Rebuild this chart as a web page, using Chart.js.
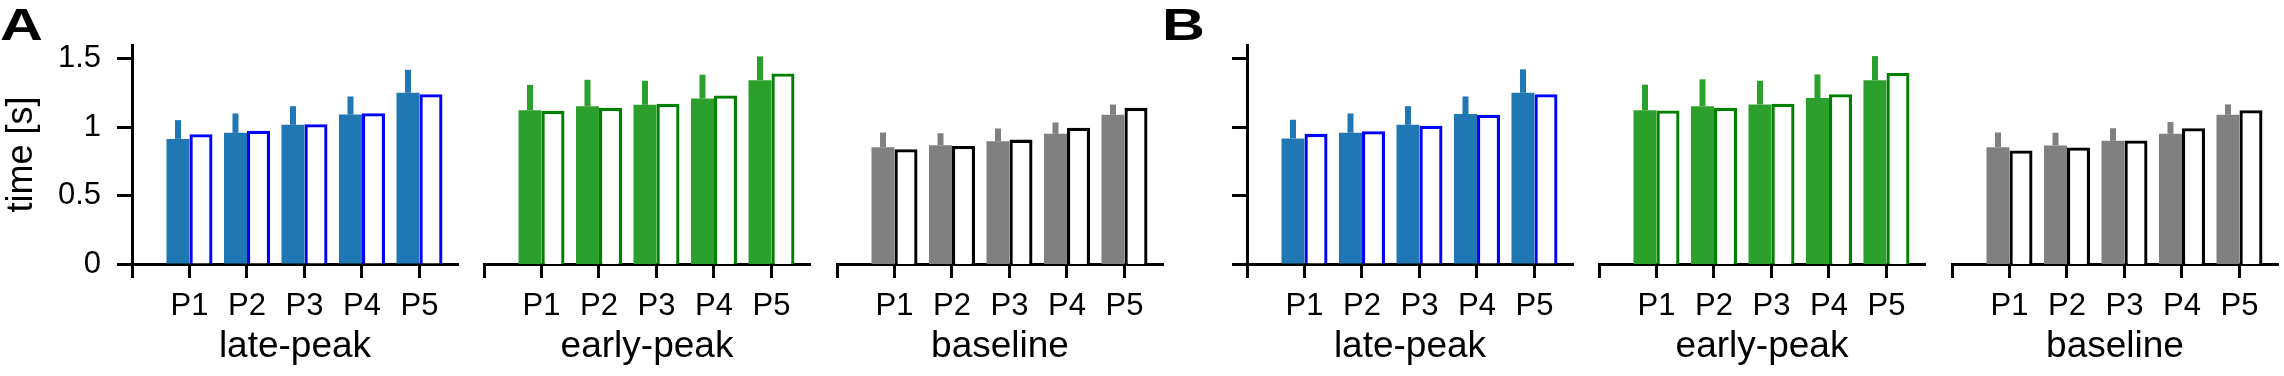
<!DOCTYPE html>
<html>
<head>
<meta charset="utf-8">
<script src="https://cdn.jsdelivr.net/npm/chart.js@4.4.1/dist/chart.umd.min.js"></script>
<style>
  body { margin: 0; background: #fff; }
  #fig { position: relative; width: 2284px; height: 376px; overflow: hidden; background: #fff; }
  #fig canvas { position: absolute; top: 0; }
  .tag { position: absolute; top: 3px; font: bold 44px 'Liberation Sans', Arial, sans-serif;
         line-height: 44px; transform: scaleX(1.35); transform-origin: 0 0; color: #000; }
</style>
</head>
<body>
<div id="fig">
  <div class="tag" style="left:0px">A</div>
  <div class="tag" style="left:1162px">B</div>
  <canvas id="aLate"  width="478" height="376" style="left:0px"></canvas>
  <canvas id="aEarly" width="366" height="376" style="left:464px"></canvas>
  <canvas id="aBase"  width="366" height="376" style="left:817px"></canvas>
  <canvas id="bLate"  width="478" height="376" style="left:1115px"></canvas>
  <canvas id="bEarly" width="366" height="376" style="left:1579px"></canvas>
  <canvas id="bBase"  width="366" height="376" style="left:1932px"></canvas>
</div>
<script>
// ===============================
// Data
// ===============================
const categories = ["P1", "P2", "P3", "P4", "P5"];
const yTicks = [0, 0.5, 1, 1.5];
const yTickLabels = ["0", "0.5", "1", "1.5"];
const yLabel = "time [s]";

// panel A
const aLateFilled  = [0.914, 0.958, 1.017, 1.092, 1.251];
const aLateErr     = [0.137, 0.142, 0.136, 0.132, 0.168];
const aLateOpen    = [0.948, 0.973, 1.021, 1.102, 1.241];

const aEarlyFilled = [1.124, 1.153, 1.163, 1.209, 1.343];
const aEarlyErr    = [0.185, 0.193, 0.176, 0.174, 0.174];
const aEarlyOpen   = [1.119, 1.141, 1.170, 1.231, 1.392];

const aBaseFilled  = [0.853, 0.868, 0.897, 0.951, 1.090];
const aBaseErr     = [0.108, 0.087, 0.093, 0.083, 0.075];
const aBaseOpen    = [0.838, 0.863, 0.909, 0.995, 1.141];

// panel B
const bLateFilled  = [0.917, 0.959, 1.017, 1.095, 1.251];
const bLateErr     = [0.137, 0.141, 0.136, 0.129, 0.171];
const bLateOpen    = [0.951, 0.970, 1.010, 1.090, 1.241];

const bEarlyFilled = [1.124, 1.153, 1.166, 1.212, 1.343];
const bEarlyErr    = [0.186, 0.196, 0.173, 0.173, 0.176];
const bEarlyOpen   = [1.122, 1.141, 1.171, 1.241, 1.395];

const bBaseFilled  = [0.853, 0.866, 0.900, 0.951, 1.090];
const bBaseErr     = [0.108, 0.093, 0.092, 0.086, 0.076];
const bBaseOpen    = [0.829, 0.851, 0.902, 0.992, 1.124];

// ===============================
// Styles
// ===============================
const FONT = "'Liberation Sans', Arial, sans-serif";
Chart.defaults.font.family = FONT;
Chart.defaults.color = "#000";

const palette = {
    "late-peak":  { fill: "#1f77b4", edge: "#0000ff" },
    "early-peak": { fill: "#2ca02c", edge: "#008000" },
    "baseline":   { fill: "#808080", edge: "#000000" }
};

// ===============================
// Upper error bars on the filled bars
// ===============================
const errorBars = {
    id: "errorBars",
    afterDatasetsDraw(chart) {
        const ds = chart.data.datasets[0];
        const meta = chart.getDatasetMeta(0);
        const y = chart.scales.y;
        const ctx = chart.ctx;
        ctx.save();
        ctx.strokeStyle = ds.backgroundColor;
        ctx.lineWidth = 6;
        meta.data.forEach((bar, i) => {
            const top = y.getPixelForValue(ds.data[i].y + ds.errors[i]);
            ctx.beginPath();
            ctx.moveTo(bar.x, bar.y);
            ctx.lineTo(bar.x, top);
            ctx.stroke();
        });
        ctx.restore();
    }
};

const toPoints = arr => arr.map((v, i) => ({ x: i + 1, y: v }));

function makePanel(id, group, filled, err, open, yMode) {
    const col = palette[group];
    const showY = yMode !== "none";
    const xTickValues = [0].concat(categories.map((_, i) => i + 1));

    new Chart(document.getElementById(id), {
        type: "bar",
        data: {
            datasets: [{
                data: toPoints(filled),
                errors: err,
                backgroundColor: col.fill,
                borderWidth: 0,
                categoryPercentage: 0.8,
                barPercentage: 1
            }, {
                data: toPoints(open),
                backgroundColor: "#ffffff",
                borderColor: col.edge,
                borderWidth: 3.3,
                categoryPercentage: 0.8,
                barPercentage: 1
            }]
        },
        options: {
            responsive: false,
            animation: false,
            devicePixelRatio: 1,
            layout: { padding: { top: 45, bottom: 0, left: showY ? 0 : 20, right: 20 } },
            plugins: { legend: { display: false }, tooltip: { enabled: false } },
            scales: {
                x: {
                    type: "linear",
                    min: 0,
                    max: 5.67,
                    offset: false,
                    z: 1,
                    afterBuildTicks: s => { s.ticks = xTickValues.map(v => ({ value: v })); },
                    afterFit: s => { s.height = 112; },
                    ticks: {
                        callback: v => (v === 0 ? "" : categories[v - 1]),
                        autoSkip: false,
                        maxRotation: 0,
                        padding: 10,
                        font: { size: 31 }
                    },
                    grid: { offset: false, drawOnChartArea: false, drawTicks: true,
                            tickLength: 14, tickWidth: 3, tickColor: "#000" },
                    border: { display: true, width: 3, color: "#000" },
                    title: { display: true, text: group, font: { size: 37 },
                             padding: { top: 0, bottom: 7 } }
                },
                y: {
                    display: showY,
                    min: 0,
                    max: 1.6,
                    afterBuildTicks: s => { s.ticks = yTicks.map(v => ({ value: v })); },
                    afterFit: s => { s.width = showY ? 132 : 0; },
                    ticks: {
                        display: yMode === "full",
                        callback: v => yTickLabels[yTicks.indexOf(v)],
                        padding: 16,
                        font: { size: 31 }
                    },
                    grid: { drawOnChartArea: false, drawTicks: true,
                            tickLength: 15, tickWidth: 3, tickColor: "#000" },
                    border: { display: true, width: 3, color: "#000" },
                    title: { display: yMode === "full", text: yLabel, font: { size: 36 },
                             padding: { top: 0, bottom: 0 } }
                }
            }
        },
        plugins: [errorBars]
    });
}

makePanel("aLate",  "late-peak",  aLateFilled,  aLateErr,  aLateOpen,  "full");
makePanel("aEarly", "early-peak", aEarlyFilled, aEarlyErr, aEarlyOpen, "none");
makePanel("aBase",  "baseline",   aBaseFilled,  aBaseErr,  aBaseOpen,  "none");
makePanel("bLate",  "late-peak",  bLateFilled,  bLateErr,  bLateOpen,  "ticks");
makePanel("bEarly", "early-peak", bEarlyFilled, bEarlyErr, bEarlyOpen, "none");
makePanel("bBase",  "baseline",   bBaseFilled,  bBaseErr,  bBaseOpen,  "none");
</script>
</body>
</html>
